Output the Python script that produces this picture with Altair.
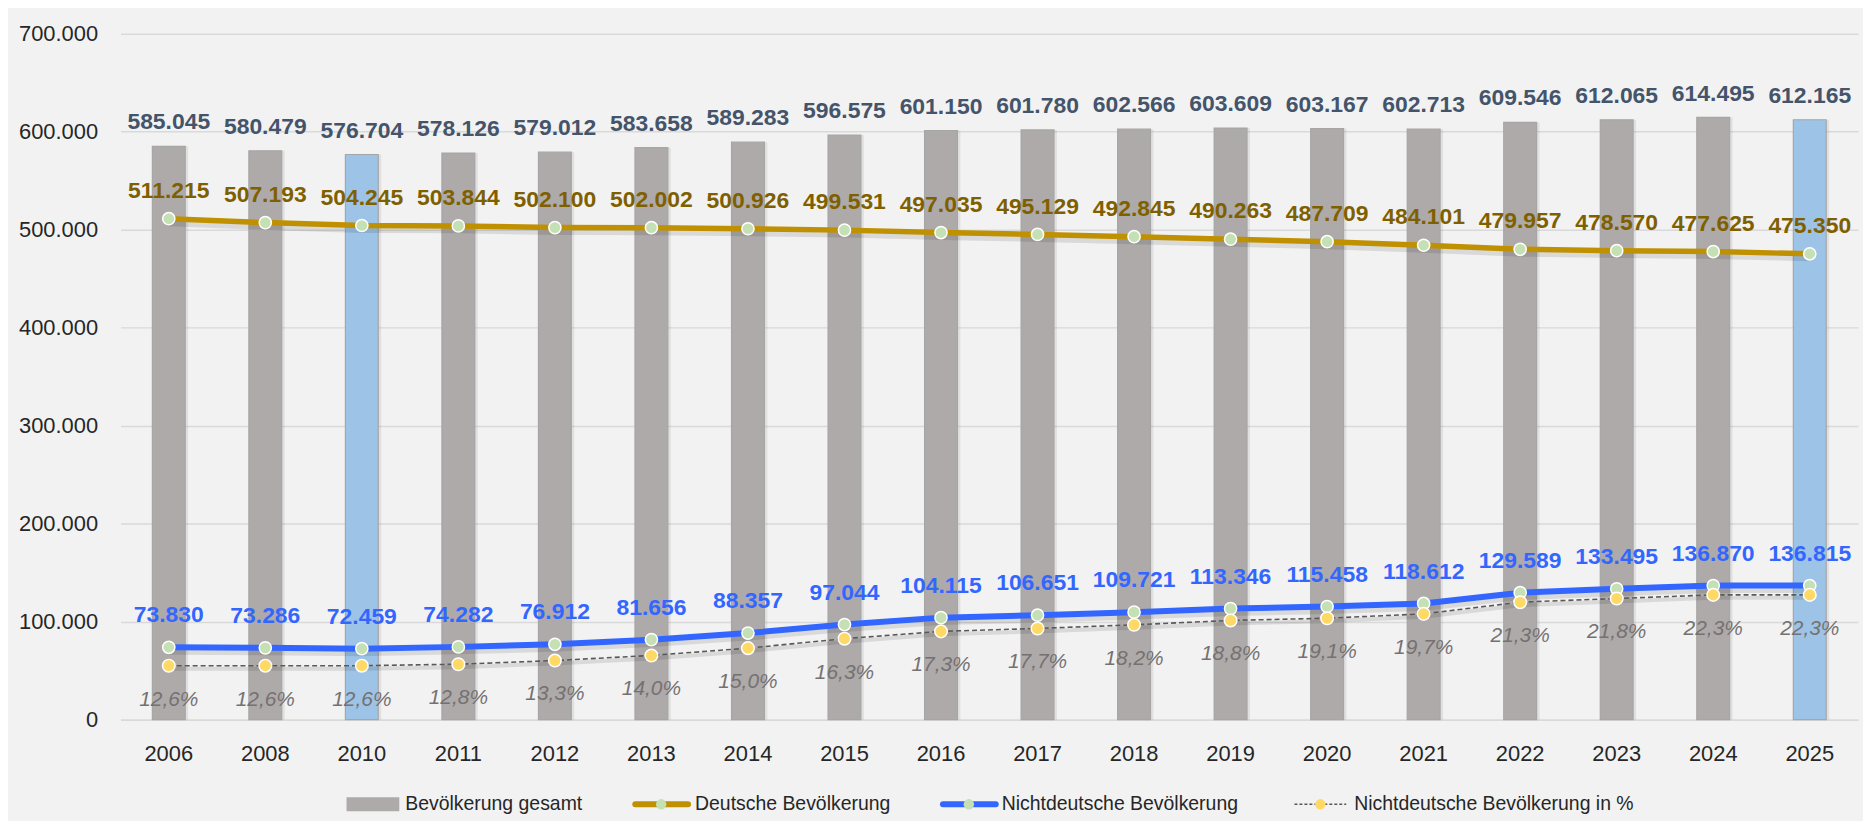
import altair as alt
import pandas as pd

years = ["2006", "2008", "2010", "2011", "2012", "2013", "2014", "2015", "2016",
         "2017", "2018", "2019", "2020", "2021", "2022", "2023", "2024", "2025"]
total = [585045, 580479, 576704, 578126, 579012, 583658, 589283, 596575, 601150,
         601780, 602566, 603609, 603167, 602713, 609546, 612065, 614495, 612165]
german = [511215, 507193, 504245, 503844, 502100, 502002, 500926, 499531, 497035,
          495129, 492845, 490263, 487709, 484101, 479957, 478570, 477625, 475350]
foreign = [73830, 73286, 72459, 74282, 76912, 81656, 88357, 97044, 104115,
           106651, 109721, 113346, 115458, 118612, 129589, 133495, 136870, 136815]
pct = [12.6, 12.6, 12.6, 12.8, 13.3, 14.0, 15.0, 16.3, 17.3,
       17.7, 18.2, 18.8, 19.1, 19.7, 21.3, 21.8, 22.3, 22.3]
highlight_years = ["2010", "2025"]
legend_labels = ["Bevölkerung gesamt", "Deutsche Bevölkerung",
                 "Nichtdeutsche Bevölkerung", "Nichtdeutsche Bevölkerung in %"]
y_ticks = [0, 100000, 200000, 300000, 400000, 500000, 600000, 700000]


def de(v):
    return f"{v:,}".replace(",", ".")


df = pd.DataFrame({"year": years, "total": total, "german": german,
                   "foreign": foreign, "pct": pct})
df["total_lbl"] = df["total"].map(de)
df["german_lbl"] = df["german"].map(de)
df["foreign_lbl"] = df["foreign"].map(de)
df["pct_lbl"] = df["pct"].map(lambda p: f"{p:.1f}".replace(".", ",") + "%")

W, H = 1745, 689
FONT = "Liberation Sans"
TXT = "#262626"

xenc = alt.X("year:N", sort=years,
             scale=alt.Scale(domain=years, paddingInner=0, paddingOuter=0),
             axis=alt.Axis(title=None, labelFontSize=22, labelColor=TXT, labelFont=FONT,
                           labelPadding=24, ticks=False, domainColor="#d9d9d9",
                           domainWidth=1.5, labelAngle=0, grid=False))
yscale = alt.Scale(domain=[0, 700000], nice=False, zero=True)
pscale = alt.Scale(domain=[5.2, 99.2], nice=False, zero=False)


def yv(field, scale=yscale):
    return alt.Y(field, scale=scale, axis=None)


base = alt.Chart(df)

bar_shadow = base.mark_bar(size=36, color="#000000", opacity=0.07, xOffset=1.5).encode(
    x=xenc,
    y=alt.Y("total:Q", scale=yscale,
            axis=alt.Axis(values=y_ticks, title=None,
                          labelExpr="replace(format(datum.value, ',d'), ',', '.')",
                          labelFontSize=22, labelColor=TXT, labelFont=FONT,
                          labelPadding=23, ticks=False, domain=False,
                          gridColor="#d9d9d9", gridWidth=1.5)))

bars = base.mark_bar(size=33, stroke="#a6a6a6", strokeWidth=1.2).encode(
    x=xenc,
    y=yv("total:Q"),
    color=alt.condition(alt.FieldOneOfPredicate(field="year", oneOf=highlight_years),
                        alt.value("#9dc3e6"), alt.value("#aeaaaa")),
)


def shadow(field, scale=yscale, w=9):
    return base.mark_line(color="#000000", opacity=0.10, strokeWidth=w, yOffset=3,
                          strokeCap="round").encode(x=xenc, y=yv(field, scale))


german_line = base.mark_line(color="#bf9000", strokeWidth=5.5).encode(x=xenc, y=yv("german:Q"))
foreign_line = base.mark_line(color="#3366ff", strokeWidth=6).encode(x=xenc, y=yv("foreign:Q"))
pct_line = base.mark_line(color="#595959", strokeWidth=1.6, strokeDash=[5, 3]).encode(
    x=xenc, y=yv("pct:Q", pscale))

german_pts = base.mark_circle(size=150, color="#c5e0b4", stroke="white", strokeWidth=1.5,
                              opacity=1).encode(x=xenc, y=yv("german:Q"))
foreign_pts = base.mark_circle(size=150, color="#c5e0b4", stroke="white", strokeWidth=1.5,
                               opacity=1).encode(x=xenc, y=yv("foreign:Q"))
pct_pts = base.mark_circle(size=160, color="#ffd966", stroke="white", strokeWidth=1.5,
                           opacity=1).encode(x=xenc, y=yv("pct:Q", pscale))

total_txt = base.mark_text(dy=-17, baseline="alphabetic", font=FONT, fontSize=23,
                           fontWeight="bold", color="#44546a").encode(
    x=xenc, y=yv("total:Q"), text="total_lbl:N")
german_txt = base.mark_text(dy=-21, baseline="alphabetic", font=FONT, fontSize=23,
                            fontWeight="bold", color="#7f6000").encode(
    x=xenc, y=yv("german:Q"), text="german_lbl:N")
foreign_txt = base.mark_text(dy=-25, baseline="alphabetic", font=FONT, fontSize=23,
                             fontWeight="bold", color="#3366ff").encode(
    x=xenc, y=yv("foreign:Q"), text="foreign_lbl:N")
pct_txt = base.mark_text(dy=40, baseline="alphabetic", font=FONT, fontSize=21,
                         fontStyle="italic", color="#757171").encode(
    x=xenc, y=yv("pct:Q", pscale), text="pct_lbl:N")

# legend (manual, below plot)
leg_df = pd.DataFrame({"label": legend_labels})
LY = 774


def leg(i):
    return alt.Chart(leg_df).transform_filter(alt.datum.label == legend_labels[i])


def leg_text(i, x0):
    return leg(i).mark_text(align="left", baseline="middle", font=FONT, fontSize=19.5,
                            color=TXT).encode(x=alt.value(x0), y=alt.value(LY),
                                              text="label:N")


legend_layers = [
    leg(0).mark_rect(color="#aeaaaa").encode(x=alt.value(227), x2=alt.value(280),
                                             y=alt.value(LY - 7), y2=alt.value(LY + 7)),
    leg_text(0, 286),
    leg(1).mark_rule(color="#bf9000", strokeWidth=6, strokeCap="round").encode(
        x=alt.value(517), x2=alt.value(570), y=alt.value(LY)),
    leg(1).mark_circle(size=110, color="#c5e0b4", opacity=1).encode(
        x=alt.value(543), y=alt.value(LY)),
    leg_text(1, 577),
    leg(2).mark_rule(color="#3366ff", strokeWidth=6, strokeCap="round").encode(
        x=alt.value(826), x2=alt.value(879), y=alt.value(LY)),
    leg(2).mark_circle(size=110, color="#c5e0b4", opacity=1).encode(
        x=alt.value(852), y=alt.value(LY)),
    leg_text(2, 885),
    leg(3).mark_rule(color="#595959", strokeWidth=1.5, strokeDash=[3, 2]).encode(
        x=alt.value(1179), x2=alt.value(1231), y=alt.value(LY)),
    leg(3).mark_circle(size=110, color="#ffd966", opacity=1).encode(
        x=alt.value(1205), y=alt.value(LY)),
    leg_text(3, 1239),
]

chart = alt.layer(
    bar_shadow, bars,
    shadow("pct:Q", pscale, 4), shadow("german:Q"), shadow("foreign:Q"),
    pct_line, german_line, foreign_line,
    german_pts, foreign_pts, pct_pts,
    total_txt, german_txt, foreign_txt, pct_txt,
    *legend_layers,
).resolve_scale(y="independent").properties(
    width=W, height=H,
    autosize=alt.AutoSizeParams(type="none"),
    padding={"left": 113, "top": 24, "right": 5, "bottom": 100},
    background="#f2f2f2",
).configure_view(stroke=None)

chart.save("out.html", embed_options={"renderer": "svg", "actions": False})
